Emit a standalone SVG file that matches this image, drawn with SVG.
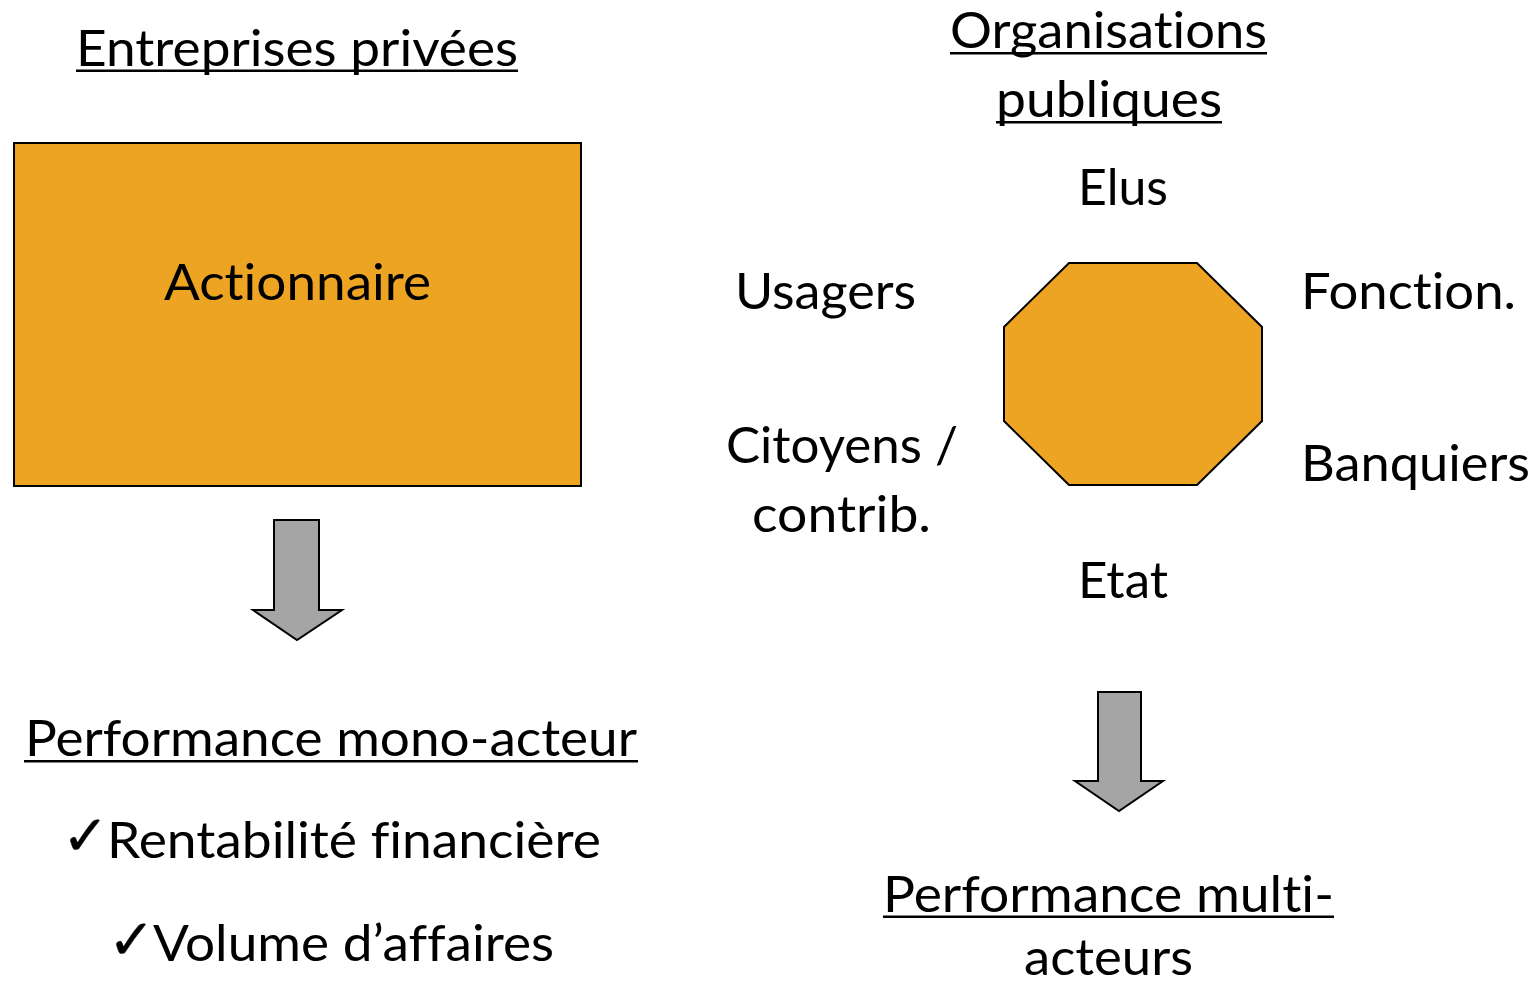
<svg xmlns="http://www.w3.org/2000/svg" width="1536" height="984" viewBox="0 0 1536 984">
<defs>
<style>
.t{font-family:Lato,"Open Sans","Liberation Sans",sans-serif;font-size:51px;fill:#000;font-variant-ligatures:none;font-feature-settings:"liga" 0,"clig" 0,"dlig" 0}
.u{fill:#000}
.shape{fill:#EDA423;stroke:#000;stroke-width:2}
.arrow{fill:#A5A5A5;stroke:#000;stroke-width:2;stroke-linejoin:miter}
.chk{font-family:"DejaVu Sans",sans-serif;font-size:56px;fill:#000;stroke:#000;stroke-width:0.4}
</style>
</defs>
<rect width="1536" height="984" fill="#fff"/>

<g id="title-private">
<text class="t" x="76" y="66" textLength="442" lengthAdjust="spacingAndGlyphs">Entreprises privées</text>
<rect class="u" x="76" y="69.5" width="442" height="2.5"/>
</g>

<g id="node-actionnaire">
<rect class="shape" x="14" y="143" width="567" height="343"/>
<text class="t" x="164" y="300" textLength="267" lengthAdjust="spacingAndGlyphs">Actionnaire</text>
</g>

<g id="title-public">
<text class="t" x="950" y="48" textLength="317" lengthAdjust="spacingAndGlyphs">Organisations</text>
<rect class="u" x="950" y="52" width="317" height="2.5"/>
<text class="t" x="996" y="117" textLength="226" lengthAdjust="spacingAndGlyphs">publiques</text>
<rect class="u" x="996" y="121" width="226" height="2.5"/>
</g>

<g id="node-octagon">
<polygon class="shape" points="1069,263 1197,263 1262,327 1262,421 1197,485 1069,485 1004,421 1004,327"/>
</g>

<g id="labels-actors">
<text class="t" x="1078" y="205" textLength="90" lengthAdjust="spacingAndGlyphs">Elus</text>
<text class="t" x="735" y="309" textLength="181" lengthAdjust="spacingAndGlyphs">Usagers</text>
<text class="t" x="1301" y="309" textLength="215" lengthAdjust="spacingAndGlyphs">Fonction.</text>
<text class="t" x="726" y="463" textLength="232" lengthAdjust="spacingAndGlyphs">Citoyens /</text>
<text class="t" x="752" y="532" textLength="179" lengthAdjust="spacingAndGlyphs">contrib.</text>
<text class="t" x="1301" y="481" textLength="229" lengthAdjust="spacingAndGlyphs">Banquiers</text>
<text class="t" x="1078" y="598" textLength="90" lengthAdjust="spacingAndGlyphs">Etat</text>
</g>

<g id="connectors">
<polygon class="arrow" points="274,520 319,520 319,610 342,610 297,640 253,610 274,610"/>
<polygon class="arrow" points="1098,692 1141,692 1141,781 1163,781 1119,811 1075,781 1098,781"/>
</g>

<g id="result-private">
<text class="t" x="25" y="756" textLength="612" lengthAdjust="spacingAndGlyphs">Performance mono-acteur</text>
<rect class="u" x="24" y="760" width="614" height="2.5"/>
<text class="chk" x="62" y="855">✓</text>
<text class="t" x="107" y="858" textLength="494" lengthAdjust="spacingAndGlyphs">Rentabilité financière</text>
<text class="chk" x="108" y="959">✓</text>
<text class="t" x="153" y="961" textLength="401" lengthAdjust="spacingAndGlyphs">Volume d’affaires</text>
</g>

<g id="result-public">
<text class="t" x="883" y="912" textLength="451" lengthAdjust="spacingAndGlyphs">Performance multi-</text>
<rect class="u" x="883" y="915.5" width="451" height="2.5"/>
<text class="t" x="1024" y="975" textLength="169" lengthAdjust="spacingAndGlyphs">acteurs</text>
</g>
</svg>
